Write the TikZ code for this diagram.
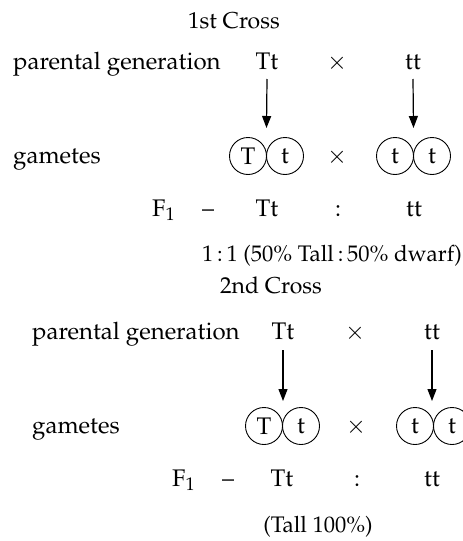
\documentclass[tikz,border=0pt]{standalone}
\usepackage[T1]{fontenc}
\usepackage{mathpazo}
\usetikzlibrary{arrows.meta}
\tikzset{
  txt/.style={inner sep=0pt, anchor=base, font=\fontsize{24}{28}\selectfont},
  ttl/.style={inner sep=0pt, anchor=base, font=\fontsize{23}{27}\selectfont},
  sml/.style={inner sep=0pt, anchor=base, font=\fontsize{22.5}{27}\selectfont},
  gam/.style={circle, draw, line width=0.9pt, minimum size=37pt, inner sep=0pt, font=\fontsize{24}{28}\selectfont},
  arr/.style={line width=1.2pt, -{Triangle[length=12pt,width=9pt]}}
}
\begin{document}
\begin{tikzpicture}[x=1pt,y=-1pt]
\useasboundingbox (0,0) rectangle (463,541);
% ---------- 1st cross ----------
\node[ttl] (t1) at (234,28) {1st Cross};
\node[txt,anchor=base west] (pg1) at (13,69) {parental generation};
\node[txt] (p1a) at (267,69) {Tt};
\node[txt] (x1a) at (337,69) {$\times$};
\node[txt] (p1b) at (413,69) {tt};
\node[txt,anchor=base west] (g1) at (13,163) {gametes};
\node[gam] (c1a) at (248,156) {T};
\node[gam] (c1b) at (285,156) {t};
\node[txt] (x1b) at (337,163) {$\times$};
\node[gam] (c1c) at (395,156) {t};
\node[gam] (c1d) at (432,156) {t};
\coordinate (j1a) at (266.5,138);
\coordinate (j1b) at (413.5,138);
\draw[arr] (p1a.south |- 0,79) -- (j1a |- 0,128);
\draw[arr] (p1b.south |- 0,79) -- (j1b |- 0,128);
\node[txt,anchor=base west] (f1) at (152,216) {F$_{1}$};
\node[txt] (d1) at (208,216) {--};
\node[txt] (r1a) at (267,216) {Tt};
\node[txt] (r1b) at (338,216) {:};
\node[txt] (r1c) at (414,216) {tt};
\node[sml,anchor=base east] (ratio1) at (462,261) {1\,:\,1 (50\% Tall\,:\,50\% dwarf)};
% ---------- 2nd cross ----------
\node[ttl] (t2) at (271,293) {2nd Cross};
\node[txt,anchor=base west] (pg2) at (32,339) {parental generation};
\node[txt] (p2a) at (283,339) {Tt};
\node[txt] (x2a) at (355,339) {$\times$};
\node[txt] (p2b) at (432,339) {tt};
\node[txt,anchor=base west] (g2) at (32,433) {gametes};
\node[gam] (c2a) at (264,426) {T};
\node[gam] (c2b) at (301,426) {t};
\node[txt] (x2b) at (356,433) {$\times$};
\node[gam] (c2c) at (415,426) {t};
\node[gam] (c2d) at (452,426) {t};
\draw[arr] (p2a.south |- 0,350) -- (p2a.south |- 0,401);
\draw[arr] (p2b.south |- 0,350) -- (p2b.south |- 0,401);
\node[txt,anchor=base west] (f2) at (172,486) {F$_{1}$};
\node[txt] (d2) at (228,486) {--};
\node[txt] (r2a) at (282,486) {Tt};
\node[txt] (r2b) at (357,486) {:};
\node[txt] (r2c) at (432,486) {tt};
\node[sml] (ratio2) at (318,532) {(Tall 100\%)};
\end{tikzpicture}
\end{document}
